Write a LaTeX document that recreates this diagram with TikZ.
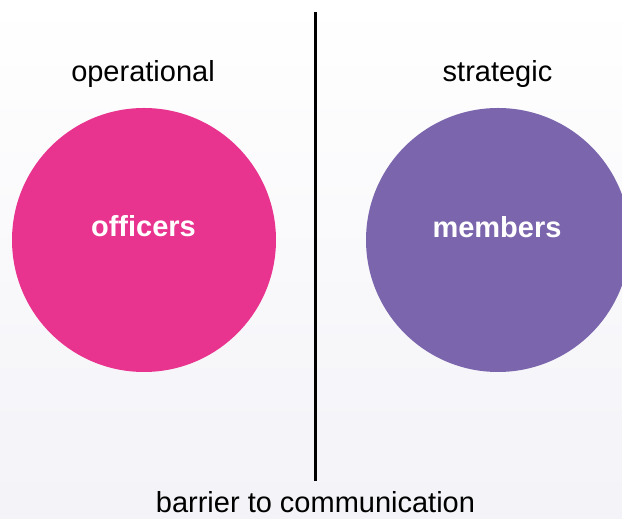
\documentclass[tikz,border=0pt]{standalone}
\usepackage{fontspec}
\setmainfont{Liberation Sans}
\definecolor{officerpink}{RGB}{232,52,143}
\definecolor{memberpurple}{RGB}{123,102,173}
\definecolor{paperlow}{RGB}{243,243,248}
\tikzset{x=1pt,y=1pt,
         side/.style={circle,minimum size=264pt,inner sep=0pt,draw=none},
         heading/.style={anchor=base,inner sep=0pt,font=\fontsize{29}{34}\selectfont},
         inside/.style={heading,text=white,font=\fontsize{29}{34}\selectfont\bfseries},
         barrier/.style={draw=black,line width=3pt}}

\begin{document}
\begin{tikzpicture}
      \useasboundingbox (0,0) rectangle (622,519);
      \clip (0,0) rectangle (622,519);
      \shade[top color=white,bottom color=paperlow] (0,0) rectangle (622,519);
      % the two groups
      \node[side,fill=officerpink] (officers) at (144,279) {};
      \node[side,fill=memberpurple] (members) at (498,279) {};
      \node[inside] (officerslabel) at (143.5,282) {officers};
      \node[inside] (memberslabel) at (497,281) {members};
      % headings over each side
      \node[heading] (operational) at (143,437) {operational};
      \node[heading] (strategic) at (497.5,437) {strategic};
      % the wall between them
      \coordinate (walltop) at (315.5,507);
      \coordinate (wallfoot) at (315.5,38);
      \draw[barrier] (walltop) -- (wallfoot);
      \node[heading] (barriertext) at (315.5,6) {barrier to communication};
    \end{tikzpicture}
\end{document}
